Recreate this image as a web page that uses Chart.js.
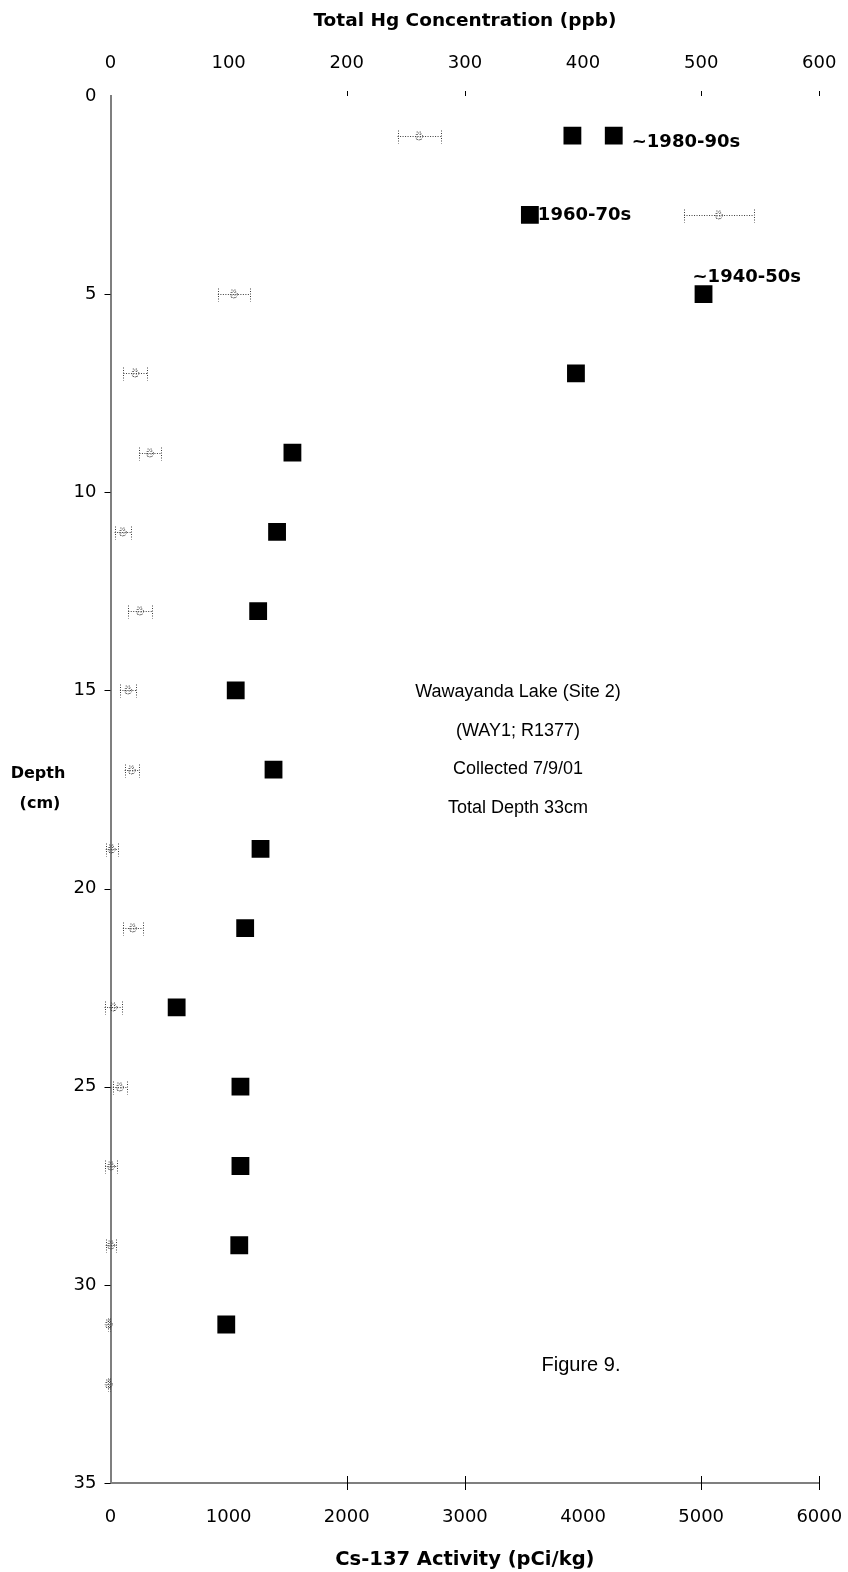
<!DOCTYPE html>
<html>
<head>
<meta charset="utf-8">
<script src="https://cdn.jsdelivr.net/npm/chart.js@4.4.1/dist/chart.umd.min.js"></script>
<style>
  html, body { margin: 0; padding: 0; background: #fff; overflow: hidden; }
  #c { display: block; }
</style>
</head>
<body>
<canvas id="c" width="848" height="1572" style="width:848px;height:1572px"></canvas>
<script>
// Total Hg (ppb) by core depth (cm); two replicate analyses at 1 cm
const hgDepthCm = [1, 1, 3, 5, 7, 9, 11, 13, 15, 17, 19, 21, 23, 25, 27, 29, 31];
const hgPpb = [391, 426, 355, 502, 394, 154, 141, 125, 106, 138, 127, 114, 56, 110, 110, 109, 98];

// Cs-137 activity (pCi/kg) with counting error, by core depth (cm)
const csDepthCm = [1, 3, 5, 7, 9, 11, 13, 15, 17, 19, 21, 23, 25, 27, 29, 31, 32.5];
const csActivity = [2613, 5150, 1045, 210, 335, 105, 250, 150, 180, 10, 190, 25, 80, 5, 5, -15, -15];
const csError = [183, 295, 136, 100, 90, 70, 100, 70, 60, 50, 85, 75, 60, 50, 45, 10, 10];

// Dating horizons, each tied to an Hg sample (index into hgPpb)
const horizonLabels = ['~1980-90s', '1960-70s', '~1940-50s'];
const horizonPoint = [1, 2, 3];

// Axis ticks
const hgTicks = [0, 100, 200, 300, 400, 500, 600];
const csTicks = [0, 1000, 2000, 3000, 4000, 5000, 6000];
const depthTicks = [0, 5, 10, 15, 20, 25, 30, 35];
const hgTickMarks = [200, 300, 500, 600];
const csTickMarks = [2000, 3000, 5000, 6000];
const depthTickMarks = [5, 10, 15, 20, 25, 30, 35];

const siteNote = ['Wawayanda Lake (Site 2)', '(WAY1; R1377)', 'Collected 7/9/01', 'Total Depth 33cm'];
const figureLabel = 'Figure 9.';

const REG = 'DejaVu Sans';
const AXIS_GRAY = '#7f7f7f';

// Styling / placement for the overlay text
const horizonOffsets = [[18, 7, 'left'], [8, 0, 'left'], [-11, -17, 'left']];

const overlayPlugin = {
  id: 'overlay',
  afterDatasetsDraw(chart) {
    const ctx = chart.ctx;
    const xCs = chart.scales.xCs, xHg = chart.scales.xHg, y = chart.scales.y;
    const area = chart.chartArea;

    // axis tick marks
    ctx.save();
    ctx.strokeStyle = '#000';
    ctx.lineWidth = 1;
    ctx.beginPath();
    csTickMarks.forEach(v => {
      const px = Math.round(xCs.getPixelForValue(v)) + 0.5;
      ctx.moveTo(px, area.bottom - 7); ctx.lineTo(px, area.bottom + 7);
    });
    hgTickMarks.forEach(v => {
      const px = Math.round(xHg.getPixelForValue(v)) + 0.5;
      ctx.moveTo(px, area.top - 5); ctx.lineTo(px, area.top);
    });
    depthTickMarks.forEach(v => {
      const py = Math.round(y.getPixelForValue(v)) + 0.5;
      ctx.moveTo(area.left - 6, py); ctx.lineTo(area.left, py);
    });
    ctx.stroke();
    ctx.restore();

    // Cs-137 error bars and markers (dotted)
    ctx.save();
    ctx.strokeStyle = '#3c3c3c';
    ctx.lineWidth = 1;
    ctx.setLineDash([1, 1.5]);
    csActivity.forEach((v, i) => {
      const cy = Math.round(y.getPixelForValue(csDepthCm[i])) + 0.5;
      const cx = xCs.getPixelForValue(v);
      const lo = xCs.getPixelForValue(v - csError[i]);
      const hi = xCs.getPixelForValue(v + csError[i]);
      ctx.beginPath();
      ctx.moveTo(lo, cy); ctx.lineTo(hi, cy);
      ctx.moveTo(Math.round(lo) + 0.5, cy - 6); ctx.lineTo(Math.round(lo) + 0.5, cy + 7);
      ctx.moveTo(Math.round(hi) + 0.5, cy - 6); ctx.lineTo(Math.round(hi) + 0.5, cy + 7);
      ctx.stroke();
      ctx.beginPath();
      ctx.arc(cx, cy, 3.5, 0, Math.PI * 2);
      ctx.moveTo(cx - 2, cy - 5); ctx.lineTo(cx - 2, cy + 5);
      ctx.moveTo(cx + 1, cy - 5); ctx.lineTo(cx + 1, cy + 5);
      ctx.stroke();
    });
    ctx.restore();

    // dating horizon labels
    ctx.save();
    ctx.fillStyle = '#000';
    ctx.font = 'bold 18px "' + REG + '"';
    ctx.textBaseline = 'middle';
    horizonLabels.forEach((t, k) => {
      const i = horizonPoint[k];
      const px = xHg.getPixelForValue(hgPpb[i]);
      const py = y.getPixelForValue(hgDepthCm[i]);
      const [dx, dy, al] = horizonOffsets[k];
      ctx.textAlign = al;
      ctx.fillText(t, px + dx, py + dy);
    });
    ctx.restore();

    // depth axis caption
    ctx.save();
    ctx.fillStyle = '#000';
    ctx.font = 'bold 16px "' + REG + '"';
    ctx.textAlign = 'center';
    ctx.textBaseline = 'middle';
    const mid = (area.top + area.bottom) / 2;
    ctx.fillText('Depth', 38, mid - 16);
    ctx.fillText('(cm)', 40, mid + 14);
    ctx.restore();

    // site note and figure number
    ctx.save();
    ctx.fillStyle = '#000';
    ctx.font = '18px "Liberation Sans"';
    ctx.textAlign = 'center';
    ctx.textBaseline = 'middle';
    siteNote.forEach((t, k) => ctx.fillText(t, 518, 692 + k * 38.7));
    ctx.font = '20px "Liberation Sans"';
    ctx.fillText(figureLabel, 581, 1365);
    ctx.restore();
  }
};

const tickFont = { family: REG, size: 18 };
const plainLabel = v => String(v);
// keep tick-label overhang from shrinking the plot area
const noOverhang = s => { s.paddingLeft = 0; s.paddingRight = 0; s.paddingTop = 0; s.paddingBottom = 0; };

new Chart(document.getElementById('c'), {
  type: 'scatter',
  data: {
    datasets: [
      {
        label: 'Total Hg',
        xAxisID: 'xHg',
        yAxisID: 'y',
        data: hgPpb.map((v, i) => ({ x: v, y: hgDepthCm[i] })),
        pointStyle: 'rect',
        pointRadius: 12.6,
        pointHoverRadius: 12.6,
        backgroundColor: '#000',
        borderColor: '#000',
        borderWidth: 0
      },
      {
        label: 'Cs-137',
        xAxisID: 'xCs',
        yAxisID: 'y',
        data: csActivity.map((v, i) => ({ x: v, y: csDepthCm[i] })),
        pointRadius: 0,
        pointHoverRadius: 0
      }
    ]
  },
  options: {
    responsive: false,
    animation: false,
    events: [],
    layout: { autoPadding: false, padding: { left: 0, right: 28.7, top: 0, bottom: 0 } },
    plugins: { legend: { display: false }, tooltip: { enabled: false } },
    scales: {
      xHg: {
        type: 'linear',
        position: 'top',
        min: 0, max: 600,
        afterBuildTicks: s => { s.ticks = hgTicks.map(v => ({ value: v })); },
        afterFit: s => { s.height = 96; noOverhang(s); },
        grid: { display: false, drawTicks: false },
        border: { display: false },
        ticks: { font: tickFont, color: '#000', padding: 22, maxRotation: 0, callback: plainLabel },
        title: { display: true, text: 'Total Hg Concentration (ppb)', font: { family: REG, size: 18.5, weight: 'bold' }, color: '#000', padding: { top: 10, bottom: 0 } }
      },
      xCs: {
        type: 'linear',
        position: 'bottom',
        min: 0, max: 6000,
        afterBuildTicks: s => { s.ticks = csTicks.map(v => ({ value: v })); },
        afterFit: s => { s.height = 89; noOverhang(s); },
        grid: { display: false, drawTicks: false },
        border: { display: true, color: AXIS_GRAY, width: 2 },
        ticks: { font: tickFont, color: '#000', padding: 24, maxRotation: 0, callback: plainLabel },
        title: { display: true, text: 'Cs-137 Activity (pCi/kg)', font: { family: REG, size: 19.5, weight: 'bold' }, color: '#000', padding: { top: 0, bottom: 0 } }
      },
      y: {
        type: 'linear',
        position: 'left',
        reverse: true,
        min: 0, max: 35,
        afterBuildTicks: s => { s.ticks = depthTicks.map(v => ({ value: v })); },
        afterFit: s => { s.width = 110.5; noOverhang(s); },
        grid: { display: false, drawTicks: false },
        border: { display: true, color: AXIS_GRAY, width: 2 },
        ticks: { font: tickFont, color: '#000', padding: 14, callback: plainLabel }
      }
    }
  },
  plugins: [overlayPlugin]
});
</script>
</body>
</html>
